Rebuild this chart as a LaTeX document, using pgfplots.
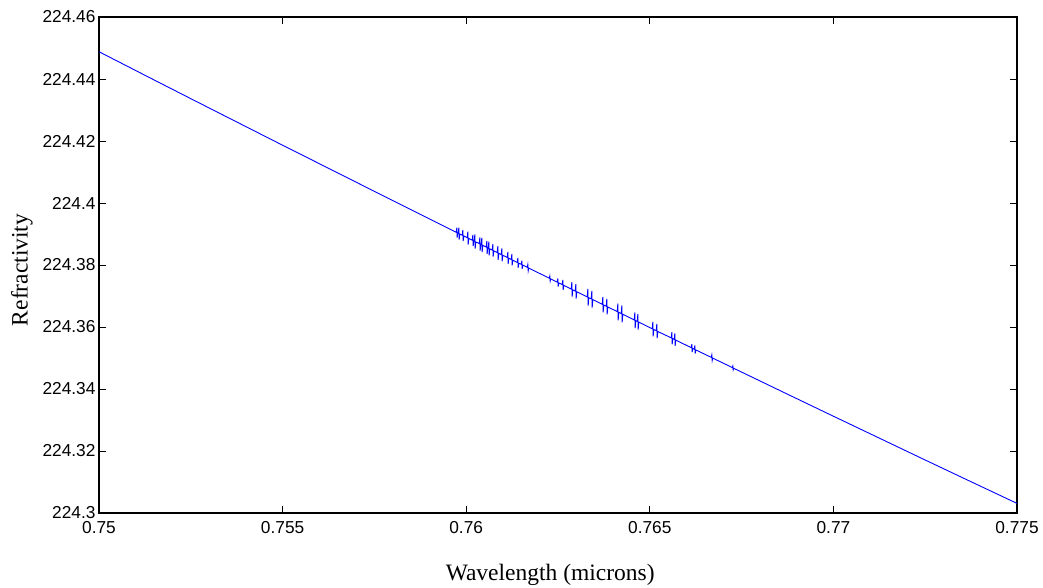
\documentclass[border=0pt]{standalone}
\usepackage{pgfplots}
\pgfplotsset{compat=1.18}
\usepackage{pgfplotstable}
\usepackage{fontspec}
\setmainfont{Liberation Serif}
\newfontfamily\ticksans{Liberation Sans}
\pgfplotstableread{
x y
0.750000 224.44880
0.751250 224.44121
0.752500 224.43365
0.755000 224.41864
0.757500 224.40375
0.758750 224.39635
0.759729 224.39055
0.759744 224.39203
0.759754 224.38883
0.759769 224.39031
0.759784 224.39023
0.759799 224.39201
0.759809 224.38821
0.759824 224.38999
0.759893 224.38960
0.759908 224.39128
0.759918 224.38768
0.759933 224.38936
0.760029 224.38880
0.760044 224.39078
0.760054 224.38658
0.760069 224.38856
0.760165 224.38801
0.760180 224.38969
0.760190 224.38609
0.760205 224.38777
0.760220 224.38769
0.760235 224.38987
0.760245 224.38527
0.760260 224.38745
0.760356 224.38690
0.760371 224.38888
0.760381 224.38468
0.760396 224.38666
0.760410 224.38658
0.760425 224.38876
0.760435 224.38416
0.760450 224.38634
0.760546 224.38579
0.760561 224.38777
0.760571 224.38357
0.760586 224.38555
0.760601 224.38544
0.760616 224.38752
0.760626 224.38312
0.760641 224.38520
0.760710 224.38481
0.760725 224.38669
0.760735 224.38269
0.760750 224.38457
0.760846 224.38401
0.760861 224.38609
0.760871 224.38169
0.760886 224.38377
0.760955 224.38338
0.760970 224.38536
0.760980 224.38116
0.760995 224.38314
0.761118 224.38243
0.761133 224.38421
0.761143 224.38041
0.761158 224.38219
0.761227 224.38179
0.761242 224.38347
0.761252 224.37987
0.761267 224.38155
0.761391 224.38084
0.761406 224.38232
0.761416 224.37912
0.761431 224.38060
0.761500 224.38020
0.761515 224.38138
0.761525 224.37878
0.761540 224.37996
0.761663 224.37925
0.761678 224.38013
0.761688 224.37813
0.761703 224.37901
0.762262 224.37574
0.762277 224.37642
0.762287 224.37482
0.762302 224.37550
0.762480 224.37447
0.762495 224.37565
0.762505 224.37305
0.762520 224.37423
0.762616 224.37368
0.762631 224.37516
0.762641 224.37196
0.762656 224.37344
0.762861 224.37225
0.762876 224.37443
0.762886 224.36983
0.762901 224.37201
0.762970 224.37161
0.762985 224.37379
0.762995 224.36919
0.763010 224.37137
0.763297 224.36971
0.763312 224.37229
0.763322 224.36689
0.763337 224.36947
0.763406 224.36907
0.763421 224.37165
0.763431 224.36625
0.763446 224.36883
0.763705 224.36733
0.763720 224.36971
0.763730 224.36471
0.763745 224.36709
0.763814 224.36670
0.763829 224.36908
0.763839 224.36408
0.763854 224.36646
0.764114 224.36499
0.764129 224.36757
0.764139 224.36217
0.764154 224.36475
0.764223 224.36435
0.764238 224.36693
0.764248 224.36153
0.764263 224.36411
0.764577 224.36229
0.764592 224.36467
0.764602 224.35967
0.764617 224.36205
0.764659 224.36181
0.764674 224.36419
0.764684 224.35919
0.764699 224.36157
0.765067 224.35943
0.765082 224.36161
0.765092 224.35701
0.765107 224.35919
0.765176 224.35880
0.765191 224.36098
0.765201 224.35638
0.765216 224.35856
0.765585 224.35649
0.765600 224.35837
0.765610 224.35437
0.765625 224.35625
0.765666 224.35602
0.765681 224.35790
0.765691 224.35390
0.765706 224.35578
0.766129 224.35332
0.766144 224.35450
0.766154 224.35190
0.766169 224.35308
0.766211 224.35285
0.766226 224.35403
0.766236 224.35143
0.766251 224.35261
0.766674 224.35021
0.766689 224.35099
0.766699 224.34919
0.766714 224.34997
0.767246 224.34692
0.767261 224.34740
0.767271 224.34620
0.767286 224.34668
0.768750 224.33832
0.770000 224.33122
0.772500 224.31709
0.773750 224.31008
0.775000 224.30310
}\refractivity
\begin{document}
\begin{tikzpicture}
\begin{axis}[
  scale only axis,
  width=918pt, height=496pt,
  xmin=0.75, xmax=0.775,
  ymin=224.3, ymax=224.46,
  xtick={0.75,0.755,0.76,0.765,0.77,0.775},
  xticklabels={0.75,0.755,0.76,0.765,0.77,0.775},
  ytick={224.3,224.32,224.34,224.36,224.38,224.4,224.42,224.44,224.46},
  yticklabels={224.3,224.32,224.34,224.36,224.38,224.4,224.42,224.44,224.46},
  scaled x ticks=false, scaled y ticks=false,
  tick align=inside,
  major tick length=7pt,
  tick style={black, line width=0.8pt},
  axis line style={black, line width=1.3pt},
  ticklabel style={font=\ticksans\fontsize{17.3}{20}\selectfont, text=black},
  xticklabel style={yshift=-5pt},
  xlabel={Wavelength (microns)},
  ylabel={Refractivity},
  label style={font=\fontsize{23.5}{27}\selectfont},
  xlabel style={at={(axis description cs:0.4915,-0.125)}, anchor=center},
  ylabel style={at={(axis description cs:-0.084,0.49)}, anchor=center},
  clip=true,
]
\addplot[color={rgb,255:red,0;green,0;blue,255}, line width=0.9pt, mark=none] table[x=x,y=y] {\refractivity};
\coordinate (bl) at (rel axis cs:0,0);
\coordinate (tr) at (rel axis cs:1,1);
\end{axis}
\pgfresetboundingbox
\path ([shift={(-99pt,-75pt)}]bl) rectangle ([shift={(26pt,17pt)}]tr);
\end{tikzpicture}
\end{document}
